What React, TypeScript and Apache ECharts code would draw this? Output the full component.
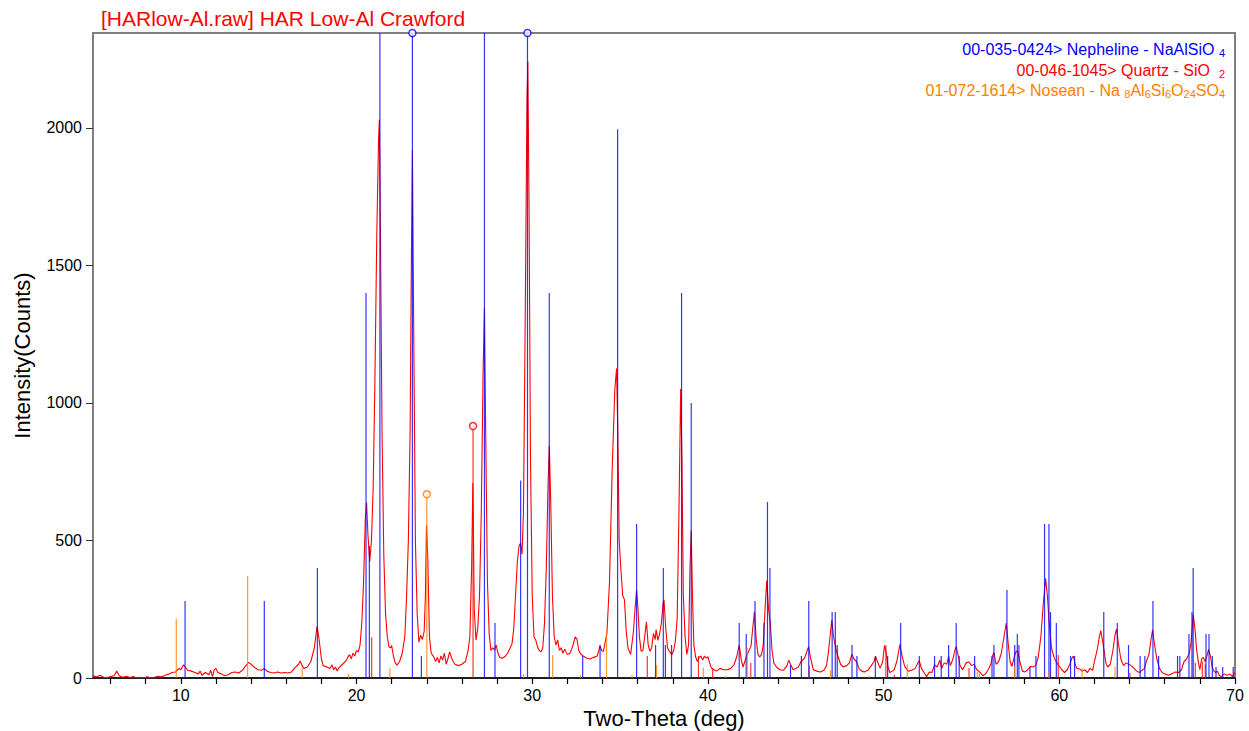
import React, { useEffect, useRef } from 'react';
import * as echarts from 'echarts';

const X_MIN = 5;
const X_MAX = 70;
const Y_MAX = 2345;

const xTickValues = [6, 8, 10, 12, 14, 16, 18, 20, 22, 24, 26, 28, 30, 32, 34, 36, 38, 40, 42, 44, 46, 48, 50, 52, 54, 56, 58, 60, 62, 64, 66, 68, 70];
const xLabelValues = [10, 20, 30, 40, 50, 60, 70];
const yLabelValues = [0, 500, 1000, 1500, 2000];

const titleText = '[HARlow-Al.raw] HAR Low-Al Crawford';
const xAxisName = 'Two-Theta (deg)';
const yAxisName = 'Intensity(Counts)';

// observed pattern [2theta, counts]
const observed: [number, number][] = [
  [5.0, 8], [5.2, 4], [5.4, 10], [5.6, 3], [5.8, 2], [6.0, 5], [6.2, 8], [6.35, 25], [6.5, 8], [6.7, 3], [6.9, 6], [7.1, 2], [7.3, 5], [7.5, 0], [7.7, 3], [7.9, 1], [8.1, 4], [8.3, 0], [8.5, 3], [8.7, 6], [8.9, 4], [9.1, 10], [9.3, 14], [9.5, 20], [9.7, 22], [9.9, 35], [10.0, 30], [10.15, 48], [10.25, 40], [10.4, 28], [10.6, 25], [10.8, 20], [11.0, 15], [11.1, 25], [11.2, 10], [11.4, 20], [11.6, 12], [11.7, 28], [11.8, 5], [11.9, 30], [12.0, 35], [12.1, 20], [12.3, 15], [12.5, 8], [12.7, 12], [12.9, 20], [13.1, 22], [13.3, 18], [13.5, 28], [13.7, 45], [13.85, 57], [14.0, 50], [14.2, 38], [14.4, 30], [14.6, 28], [14.75, 35], [14.9, 25], [15.1, 20], [15.3, 18], [15.5, 22], [15.7, 18], [15.9, 20], [16.1, 18], [16.3, 22], [16.5, 38], [16.7, 50], [16.8, 62], [16.9, 45], [17.0, 35], [17.2, 40], [17.4, 60], [17.6, 110], [17.75, 187], [17.85, 150], [18.0, 70], [18.1, 45], [18.3, 40], [18.5, 35], [18.6, 48], [18.7, 30], [18.8, 40], [18.9, 25], [19.0, 38], [19.2, 50], [19.4, 62], [19.5, 75], [19.6, 85], [19.7, 70], [19.8, 90], [19.9, 80], [20.0, 100], [20.1, 95], [20.2, 120], [20.3, 200], [20.4, 350], [20.5, 580], [20.57, 637], [20.65, 520], [20.75, 423], [20.85, 500], [20.95, 700], [21.05, 1100], [21.15, 1600], [21.25, 1950], [21.3, 2030], [21.35, 1700], [21.45, 900], [21.55, 450], [21.65, 236], [21.75, 150], [21.85, 113], [21.95, 110], [22.0, 118], [22.1, 80], [22.2, 55], [22.3, 47], [22.45, 60], [22.6, 90], [22.75, 150], [22.85, 300], [22.95, 500], [23.05, 900], [23.12, 1500], [23.18, 1920], [23.25, 1300], [23.35, 500], [23.45, 236], [23.55, 130], [23.65, 156], [23.75, 140], [23.85, 170], [23.92, 300], [23.98, 554], [24.05, 450], [24.15, 150], [24.25, 90], [24.4, 77], [24.5, 60], [24.6, 75], [24.7, 55], [24.8, 80], [24.9, 65], [25.0, 90], [25.1, 50], [25.2, 70], [25.3, 95], [25.4, 75], [25.5, 60], [25.6, 50], [25.8, 45], [26.0, 50], [26.2, 60], [26.35, 100], [26.45, 150], [26.55, 400], [26.62, 708], [26.7, 250], [26.8, 138], [26.9, 180], [27.0, 300], [27.1, 600], [27.2, 1100], [27.28, 1345], [27.35, 900], [27.45, 350], [27.55, 160], [27.65, 100], [27.75, 110], [27.85, 102], [27.95, 120], [28.05, 90], [28.15, 75], [28.3, 72], [28.45, 78], [28.6, 90], [28.75, 110], [28.85, 125], [28.95, 180], [29.05, 300], [29.15, 420], [29.25, 480], [29.33, 490], [29.42, 450], [29.5, 600], [29.6, 1300], [29.7, 2100], [29.75, 2241], [29.82, 1700], [29.9, 800], [30.0, 300], [30.1, 150], [30.2, 138], [30.3, 113], [30.4, 100], [30.5, 95], [30.6, 110], [30.7, 200], [30.8, 400], [30.9, 700], [30.97, 844], [31.05, 650], [31.15, 300], [31.25, 150], [31.35, 120], [31.45, 138], [31.55, 100], [31.65, 110], [31.75, 90], [31.85, 105], [32.0, 85], [32.15, 90], [32.3, 115], [32.45, 150], [32.55, 140], [32.65, 100], [32.75, 88], [32.9, 80], [33.1, 72], [33.3, 69], [33.5, 75], [33.7, 80], [33.86, 117], [33.95, 100], [34.05, 97], [34.15, 130], [34.25, 162], [34.4, 351], [34.55, 756], [34.7, 1050], [34.8, 1125], [34.87, 900], [34.95, 500], [35.05, 391], [35.15, 300], [35.25, 284], [35.35, 170], [35.45, 109], [35.6, 86], [35.75, 162], [35.85, 250], [35.94, 321], [36.02, 250], [36.1, 150], [36.2, 97], [36.3, 100], [36.4, 150], [36.5, 204], [36.6, 120], [36.7, 97], [36.8, 110], [36.9, 162], [37.0, 140], [37.05, 176], [37.15, 137], [37.25, 160], [37.35, 200], [37.45, 270], [37.5, 284], [37.6, 180], [37.7, 110], [37.8, 97], [37.95, 85], [38.05, 100], [38.15, 135], [38.25, 216], [38.35, 600], [38.45, 1051], [38.52, 800], [38.6, 300], [38.7, 150], [38.8, 86], [38.9, 120], [38.98, 400], [39.05, 537], [39.12, 300], [39.2, 120], [39.3, 77], [39.4, 60], [39.5, 75], [39.6, 80], [39.7, 65], [39.8, 80], [39.9, 72], [40.0, 78], [40.1, 55], [40.2, 35], [40.35, 30], [40.5, 25], [40.7, 35], [40.9, 30], [41.1, 30], [41.3, 35], [41.5, 50], [41.65, 80], [41.78, 120], [41.9, 65], [42.0, 40], [42.1, 60], [42.2, 80], [42.3, 95], [42.45, 115], [42.55, 180], [42.65, 241], [42.75, 140], [42.85, 85], [42.95, 77], [43.05, 85], [43.15, 120], [43.25, 250], [43.35, 354], [43.45, 250], [43.55, 200], [43.65, 100], [43.75, 55], [43.9, 40], [44.1, 30], [44.3, 28], [44.5, 45], [44.6, 65], [44.7, 50], [44.85, 30], [45.0, 35], [45.15, 40], [45.3, 60], [45.5, 72], [45.65, 100], [45.73, 114], [45.85, 70], [46.0, 30], [46.2, 25], [46.4, 22], [46.6, 28], [46.75, 45], [46.85, 90], [46.95, 150], [47.05, 211], [47.15, 150], [47.28, 107], [47.4, 80], [47.55, 50], [47.7, 40], [47.9, 45], [48.05, 55], [48.2, 87], [48.3, 70], [48.45, 60], [48.6, 35], [48.75, 25], [48.9, 22], [49.1, 28], [49.3, 45], [49.45, 60], [49.54, 78], [49.65, 60], [49.8, 36], [49.95, 60], [50.05, 118], [50.15, 90], [50.25, 40], [50.35, 20], [50.5, 25], [50.6, 30], [50.75, 60], [50.85, 95], [50.93, 122], [51.05, 80], [51.2, 42], [51.4, 25], [51.6, 28], [51.8, 35], [51.95, 55], [52.03, 63], [52.15, 35], [52.3, 20], [52.45, 5], [52.6, 22], [52.75, 20], [52.9, 48], [53.05, 40], [53.2, 65], [53.3, 35], [53.45, 55], [53.6, 50], [53.7, 80], [53.8, 45], [53.95, 70], [54.05, 100], [54.13, 114], [54.25, 80], [54.35, 45], [54.5, 30], [54.7, 55], [54.85, 59], [55.0, 45], [55.15, 50], [55.3, 30], [55.5, 20], [55.65, 8], [55.8, 15], [55.95, 30], [56.1, 50], [56.2, 80], [56.28, 92], [56.4, 50], [56.55, 60], [56.7, 90], [56.85, 150], [56.98, 199], [57.1, 120], [57.2, 60], [57.3, 42], [57.45, 80], [57.55, 98], [57.65, 95], [57.75, 60], [57.9, 25], [58.05, 22], [58.2, 30], [58.35, 42], [58.5, 40], [58.65, 45], [58.8, 75], [58.95, 150], [59.1, 280], [59.22, 362], [59.32, 300], [59.42, 205], [59.55, 110], [59.7, 75], [59.85, 55], [60.0, 42], [60.15, 30], [60.3, 20], [60.45, 30], [60.6, 50], [60.7, 70], [60.8, 80], [60.9, 50], [61.0, 35], [61.15, 33], [61.3, 25], [61.45, 30], [61.6, 20], [61.75, 35], [61.9, 28], [62.0, 60], [62.15, 100], [62.28, 150], [62.36, 172], [62.45, 140], [62.55, 100], [62.65, 55], [62.75, 40], [62.9, 50], [63.05, 100], [63.18, 160], [63.26, 178], [63.35, 130], [63.5, 70], [63.65, 45], [63.8, 55], [63.95, 50], [64.1, 45], [64.25, 35], [64.4, 25], [64.55, 20], [64.7, 28], [64.85, 35], [64.95, 60], [65.1, 85], [65.22, 140], [65.31, 175], [65.4, 130], [65.55, 70], [65.7, 35], [65.85, 20], [66.0, 15], [66.2, 10], [66.4, 15], [66.6, 22], [66.8, 20], [66.95, 30], [67.1, 60], [67.25, 70], [67.4, 90], [67.5, 130], [67.62, 231], [67.72, 180], [67.82, 100], [67.92, 55], [68.0, 30], [68.1, 70], [68.2, 75], [68.3, 60], [68.4, 80], [68.5, 104], [68.6, 80], [68.7, 40], [68.8, 25], [68.9, 20], [69.0, 25], [69.1, 10], [69.2, 5], [69.4, 15], [69.55, 10], [69.7, 15], [69.85, 5], [70.0, 20],
];

// reference stick patterns [2theta, counts]
const nepheline: [number, number][] = [
  [10.24, 280], [14.75, 280], [17.77, 400], [20.54, 1400], [20.73, 480], [21.33, 3000], [23.18, 3000], [23.69, 80], [27.28, 3000], [27.88, 200], [29.34, 718], [29.73, 3000], [30.97, 1400], [32.87, 80], [33.86, 120], [34.86, 1995], [35.94, 560], [37.02, 120], [37.46, 400], [37.58, 120], [37.93, 120], [38.5, 1400], [39.05, 1000], [41.78, 200], [42.18, 160], [42.68, 280], [43.19, 200], [43.39, 640], [43.53, 400], [44.7, 47], [45.32, 80], [45.74, 280], [47.07, 240], [47.25, 240], [47.36, 120], [48.2, 120], [48.48, 80], [49.53, 80], [50.23, 80], [50.97, 200], [52.03, 80], [52.9, 80], [53.28, 80], [53.7, 120], [54.13, 200], [54.3, 80], [55.18, 80], [56.17, 80], [56.28, 120], [57.02, 320], [57.46, 120], [57.61, 160], [57.7, 120], [58.33, 40], [58.67, 80], [59.16, 560], [59.41, 560], [59.5, 240], [59.83, 200], [60.64, 80], [60.87, 80], [62.53, 240], [63.3, 200], [63.94, 120], [64.6, 80], [64.87, 80], [65.33, 280], [65.65, 80], [66.73, 80], [66.86, 80], [67.38, 160], [67.55, 240], [67.62, 400], [68.35, 160], [68.52, 160], [68.71, 80], [68.92, 40], [69.3, 40], [69.9, 40],
];
const quartz: [number, number][] = [
  [20.86, 148], [26.63, 916], [36.55, 80], [39.46, 80], [40.27, 36], [42.44, 55], [45.77, 45], [50.13, 120], [50.61, 12], [54.86, 36], [59.94, 84], [64.02, 18], [67.74, 55], [68.14, 60], [68.31, 50],
];
const nosean: [number, number][] = [
  [9.74, 215], [13.8, 370], [16.91, 35], [19.55, 14], [21.9, 36], [24.0, 668], [29.5, 14], [31.16, 84], [32.74, 10], [34.23, 165], [35.68, 10], [37.08, 47], [39.74, 38], [41.0, 8], [42.24, 110], [46.98, 28], [49.18, 8], [51.35, 50], [55.33, 22], [55.45, 28], [57.45, 42], [59.4, 22], [61.3, 35], [63.17, 42],
];

// sticks carrying an open circle marker
const nephelineMarked = [23.18, 29.73];
const quartzMarked = [26.63];
const noseanMarked = [24.0];

const BLUE = '#0000ff';
const RED = '#ff0000';
const ORANGE = '#ff8000';
const FONT = 'Arial, "Liberation Sans", Helvetica, sans-serif';

function stickSeries(name: string, data: [number, number][], color: string) {
  return {
    name,
    type: 'custom',
    data,
    encode: { x: 0, y: 1 },
    clip: true,
    z: 3,
    renderItem: (_params: any, api: any) => {
      const x = api.value(0);
      const v = Math.min(api.value(1), Y_MAX);
      const a = api.coord([x, 0]);
      const b = api.coord([x, v]);
      return {
        type: 'line',
        shape: { x1: a[0], y1: a[1], x2: b[0], y2: b[1] },
        style: { stroke: color, lineWidth: 1.2, opacity: 0.8 },
      };
    },
  };
}

function markerSeries(name: string, sticks: [number, number][], marked: number[], color: string) {
  const pts = sticks
    .filter((s) => marked.includes(s[0]))
    .map((s) => [s[0], Math.min(s[1], Y_MAX)]);
  return {
    name,
    type: 'scatter',
    data: pts,
    symbol: 'circle',
    symbolSize: 7,
    clip: false,
    z: 5,
    itemStyle: { color: '#ffffff', borderColor: color, borderWidth: 1.5 },
  };
}

function legendRich(color: string) {
  return {
    a: { fontSize: 16, lineHeight: 19, fontFamily: FONT, fill: color, color },
    s: { fontSize: 11, lineHeight: 8, verticalAlign: 'bottom', fontFamily: FONT, fill: color, color },
  };
}

export default function App() {
  const ref = useRef<HTMLDivElement>(null);

  useEffect(() => {
    if (!ref.current) return;
    const chart = echarts.init(ref.current, undefined, { renderer: 'svg' });
    const option: any = {
      animation: false,
      backgroundColor: '#ffffff',
      textStyle: { fontFamily: FONT },
      grid: {
        left: 93,
        top: 33,
        right: 14,
        bottom: 53,
        outerBoundsMode: 'none',
        containLabel: false,
        show: true,
        borderColor: '#808080',
        borderWidth: 2,
        backgroundColor: 'transparent',
      },
      xAxis: {
        type: 'value',
        min: X_MIN,
        max: X_MAX,
        name: xAxisName,
        nameLocation: 'middle',
        nameGap: 28,
        nameTextStyle: { fontSize: 22, color: '#000', fontFamily: FONT },
        axisLine: { show: true, onZero: false, lineStyle: { color: '#000', width: 1.5 } },
        axisTick: { show: true, inside: false, length: 6, customValues: xTickValues, lineStyle: { color: '#000', width: 1.2 } },
        axisLabel: { customValues: xLabelValues, fontSize: 16, color: '#000', margin: 9, fontFamily: FONT, formatter: (v: number) => String(v) },
        splitLine: { show: false },
      },
      yAxis: {
        type: 'value',
        min: 0,
        max: Y_MAX,
        name: yAxisName,
        nameLocation: 'middle',
        nameGap: 60,
        nameTextStyle: { fontSize: 22, color: '#000', fontFamily: FONT },
        axisLine: { show: true, onZero: false, lineStyle: { color: '#7f7f7f', width: 2 } },
        axisTick: { show: true, inside: false, length: 7, customValues: yLabelValues, lineStyle: { color: '#333', width: 1 } },
        axisLabel: { customValues: yLabelValues, fontSize: 16, color: '#000', margin: 11, fontFamily: FONT, formatter: (v: number) => String(v) },
        splitLine: { show: false },
      },
      series: [
        {
          name: 'observed',
          type: 'line',
          data: observed,
          showSymbol: false,
          symbol: 'none',
          clip: true,
          z: 2,
          lineStyle: { color: RED, width: 1.1 },
        },
        stickSeries('Nepheline', nepheline, BLUE),
        stickSeries('Quartz', quartz, RED),
        stickSeries('Nosean', nosean, ORANGE),
        markerSeries('NephelineMark', nepheline, nephelineMarked, BLUE),
        markerSeries('QuartzMark', quartz, quartzMarked, RED),
        markerSeries('NoseanMark', nosean, noseanMarked, ORANGE),
      ],
      graphic: [
        {
          type: 'text',
          x: 101,
          y: 18,
          style: {
            text: titleText,
            fill: RED,
            font: `21px ${FONT}`,
            align: 'left',
            verticalAlign: 'middle',
            textAlign: 'left',
            textVerticalAlign: 'middle',
          },
        },
        {
          type: 'text',
          x: 1225,
          y: 49,
          style: {
            text: '{a|00-035-0424> Nepheline - NaAlSiO }{s|4}',
            fill: BLUE,
            align: 'right',
            verticalAlign: 'middle',
            textAlign: 'right',
            textVerticalAlign: 'middle',
            rich: legendRich(BLUE),
          },
        },
        {
          type: 'text',
          x: 1225,
          y: 70,
          style: {
            text: '{a|00-046-1045> Quartz - SiO  }{s|2}',
            fill: RED,
            align: 'right',
            verticalAlign: 'middle',
            textAlign: 'right',
            textVerticalAlign: 'middle',
            rich: legendRich(RED),
          },
        },
        {
          type: 'text',
          x: 1225,
          y: 90,
          style: {
            text: '{a|01-072-1614> Nosean - Na }{s|8}{a|Al}{s|6}{a|Si}{s|6}{a|O}{s|24}{a|SO}{s|4}',
            fill: ORANGE,
            align: 'right',
            verticalAlign: 'middle',
            textAlign: 'right',
            textVerticalAlign: 'middle',
            rich: legendRich(ORANGE),
          },
        },
      ],
    };
    chart.setOption(option);
    return () => {
      chart.dispose();
    };
  }, []);

  return (
    <div
      ref={ref}
      style={{ position: 'fixed', left: 0, top: 0, width: 1249, height: 731, background: '#fff' }}
    />
  );
}
